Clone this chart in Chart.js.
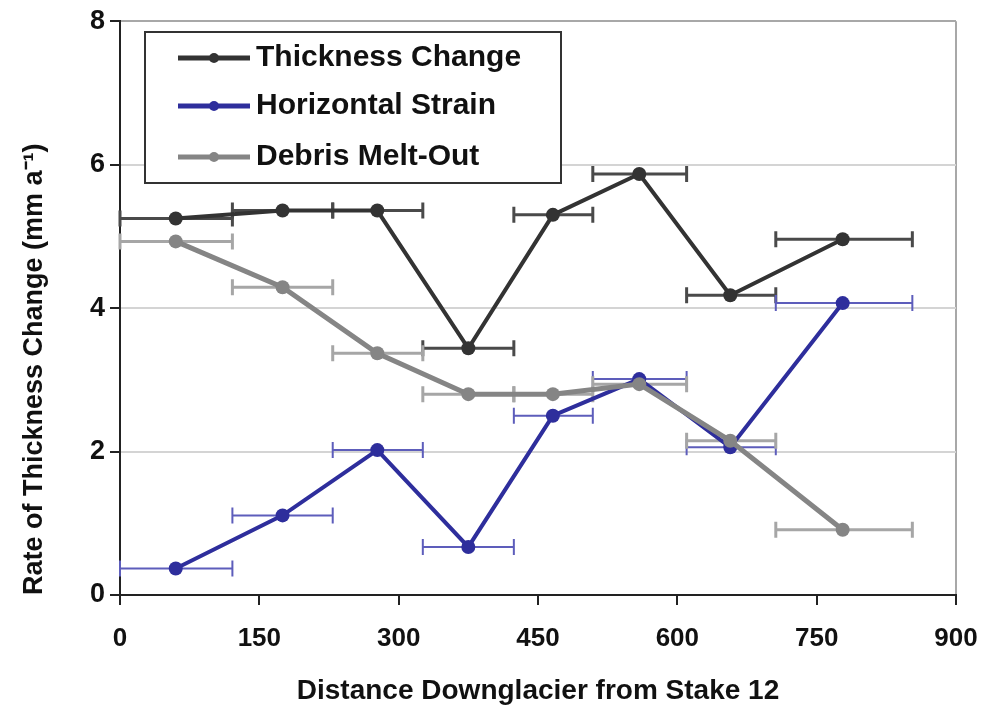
<!DOCTYPE html>
<html>
<head>
<meta charset="utf-8">
<script src="https://cdn.jsdelivr.net/npm/chart.js@4.4.0/dist/chart.umd.min.js"></script>
<style>
  html, body { margin: 0; padding: 0; background: #fff; }
  #wrap { width: 986px; height: 711px; }
</style>
</head>
<body>
<div id="wrap"><canvas id="chart"></canvas></div>
<script>
// Midpoint of each stake segment (m downglacier from stake 12)
const distances = [60, 175, 277, 375, 466, 559, 657, 778];
// Segment limits, drawn as the horizontal error bars
const segmentEdges = [0, 121, 229, 326, 424, 509, 610, 706, 853];

// Rates (mm a-1)
const thicknessChange = [5.25, 5.36, 5.36, 3.44, 5.30, 5.87, 4.18, 4.96];
const horizontalStrain = [0.37, 1.11, 2.02, 0.67, 2.50, 3.01, 2.06, 4.07];
const debrisMeltOut = [4.93, 4.29, 3.37, 2.80, 2.80, 2.94, 2.15, 0.91];

const xTicks = [0, 150, 300, 450, 600, 750, 900];
const yTicks = [0, 2, 4, 6, 8];

const FONT = "'Liberation Sans', Arial, sans-serif";

function points(values) {
  return distances.map((x, i) => ({ x: x, y: values[i] }));
}

// horizontal error bars, one per point, spanning its segment
const errorBars = {
  id: "errorBars",
  beforeDatasetsDraw(chart) {
    const ctx = chart.ctx;
    const xs = chart.scales.x;
    const ys = chart.scales.y;
    chart.data.datasets.forEach((ds) => {
      ctx.save();
      ctx.strokeStyle = ds.errColor;
      ctx.lineWidth = ds.errWidth;
      ds.data.forEach((p, i) => {
        const x1 = xs.getPixelForValue(segmentEdges[i]);
        const x2 = xs.getPixelForValue(segmentEdges[i + 1]);
        const y = ys.getPixelForValue(p.y);
        ctx.beginPath();
        ctx.moveTo(x1, y);
        ctx.lineTo(x2, y);
        ctx.moveTo(x1, y - 8);
        ctx.lineTo(x1, y + 8);
        ctx.moveTo(x2, y - 8);
        ctx.lineTo(x2, y + 8);
        ctx.stroke();
      });
      ctx.restore();
    });
  },
};

// boxed legend sitting inside the plot area
const boxLegend = {
  id: "boxLegend",
  afterDraw(chart) {
    const ctx = chart.ctx;
    ctx.save();
    ctx.fillStyle = "#fff";
    ctx.fillRect(145, 32, 416, 151);
    ctx.strokeStyle = "#333";
    ctx.lineWidth = 2;
    ctx.strokeRect(145, 32, 416, 151);
    const rows = [58, 106, 157];
    chart.data.datasets.forEach((ds, i) => {
      const y = rows[i];
      ctx.strokeStyle = ds.borderColor;
      ctx.lineWidth = 5;
      ctx.beginPath();
      ctx.moveTo(178, y);
      ctx.lineTo(250, y);
      ctx.stroke();
      ctx.fillStyle = ds.borderColor;
      ctx.beginPath();
      ctx.arc(214, y, 5, 0, Math.PI * 2);
      ctx.fill();
      ctx.fillStyle = "#111";
      ctx.font = "bold 30px " + FONT;
      ctx.textBaseline = "middle";
      ctx.fillText(ds.label, 256, y);
    });
    ctx.restore();
  },
};

new Chart(document.getElementById("chart"), {
  type: "line",
  data: {
    datasets: [
      {
        label: "Thickness Change",
        data: points(thicknessChange),
        borderColor: "#333333",
        backgroundColor: "#333333",
        borderWidth: 4,
        pointRadius: 7,
        pointBorderWidth: 0,
        errColor: "#4a4a4a",
        errWidth: 3,
        order: 1,
      },
      {
        label: "Horizontal Strain",
        data: points(horizontalStrain),
        borderColor: "#2e2e9c",
        backgroundColor: "#2e2e9c",
        borderWidth: 4,
        pointRadius: 7,
        pointBorderWidth: 0,
        errColor: "#5d5dbb",
        errWidth: 2,
        order: 3,
      },
      {
        label: "Debris Melt-Out",
        data: points(debrisMeltOut),
        borderColor: "#858585",
        backgroundColor: "#858585",
        borderWidth: 5,
        pointRadius: 7,
        pointBorderWidth: 0,
        errColor: "#a6a6a6",
        errWidth: 3,
        order: 2,
      },
    ],
  },
  options: {
    responsive: true,
    maintainAspectRatio: false,
    animation: false,
    layout: { padding: { top: 19, right: 30, left: 0, bottom: 0 } },
    plugins: {
      legend: { display: false },
      tooltip: { enabled: false },
    },
    scales: {
      x: {
        type: "linear",
        min: 0,
        max: 900,
        afterBuildTicks: (scale) => {
          scale.ticks = xTicks.map((v) => ({ value: v }));
        },
        afterFit: (scale) => {
          scale.height = 116;
          scale.paddingRight = 0;
        },
        grid: {
          color: (c) => (c.tick && c.tick.value === 900 ? "#a8a8a8" : "rgba(0,0,0,0)"),
          lineWidth: 2,
          tickColor: "#222",
          tickLength: 10,
          tickWidth: 2,
        },
        border: { color: "#222", width: 2 },
        ticks: {
          padding: 18,
          color: "#111",
          font: { family: FONT, size: 26, weight: "bold" },
        },
        title: {
          display: true,
          text: "Distance Downglacier from Stake 12",
          color: "#111",
          padding: { top: 0, bottom: 3 },
          font: { family: FONT, size: 28, weight: "bold" },
        },
      },
      y: {
        min: 0,
        max: 8,
        afterBuildTicks: (scale) => {
          scale.ticks = yTicks.map((v) => ({ value: v }));
        },
        afterFit: (scale) => {
          scale.width = 120;
        },
        grid: {
          color: (c) => (c.tick && c.tick.value === 8 ? "#a8a8a8" : "#d4d4d4"),
          lineWidth: 2,
          tickColor: "#222",
          tickLength: 10,
          tickWidth: 2,
        },
        border: { color: "#222", width: 2 },
        ticks: {
          padding: 5,
          color: "#111",
          font: { family: FONT, size: 27, weight: "bold" },
        },
        title: {
          display: true,
          text: "Rate of Thickness Change (mm a\u207B\u00B9)",
          align: "start",
          color: "#111",
          padding: { top: 18, bottom: 0 },
          font: { family: FONT, size: 27, weight: "bold" },
        },
      },
    },
  },
  plugins: [errorBars, boxLegend],
});
</script>
</body>
</html>
